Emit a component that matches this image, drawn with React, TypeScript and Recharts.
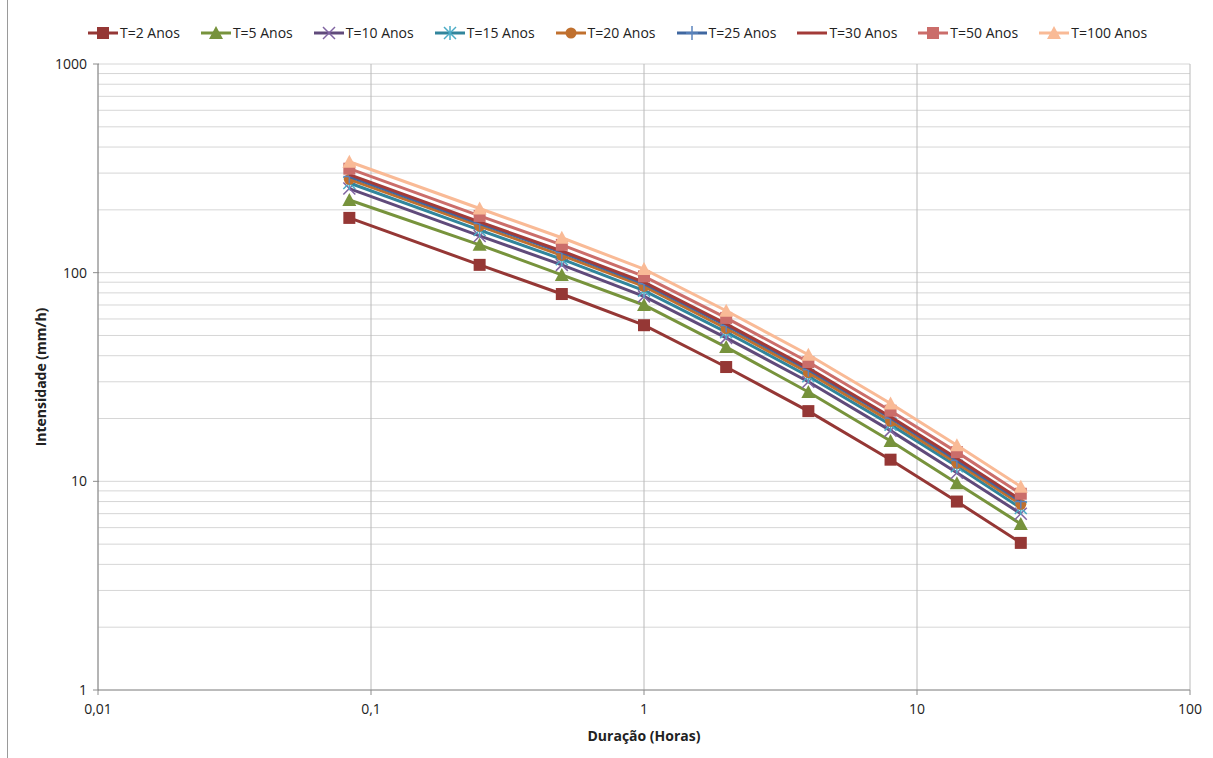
import { ScatterChart, Scatter, XAxis, YAxis, CartesianGrid } from "recharts"

// durations in hours (5, 15, 30 min, 1, 2, 4, 8, 14, 24 h)
const durations = [0.0833, 0.25, 0.5, 1, 2, 4, 8, 14, 24]

const t2 = [183, 109, 79, 56, 35.3, 21.7, 12.7, 8.0, 5.07]
const t5 = [223, 136, 97.5, 70, 44, 26.8, 15.6, 9.8, 6.25]
const t10 = [253, 150, 109, 77, 48.7, 30, 17.5, 11.0, 7.0]
const t15 = [269, 160, 116, 82, 51.9, 31.9, 18.7, 11.8, 7.45]
const t20 = [280, 167, 121, 86, 54, 33.2, 19.4, 12.2, 7.76]
const t25 = [289, 172, 125, 88.5, 55.8, 34.3, 20.1, 12.6, 8.0]
const t30 = [295, 175, 127, 90, 56.8, 34.9, 20.4, 12.9, 8.16]
const t50 = [315, 187, 136, 96, 60.7, 37.3, 21.8, 13.8, 8.72]
const t100 = [340, 203, 147, 104, 65.7, 40.4, 23.6, 14.9, 9.43]

const xTicks = [0.01, 0.1, 1, 10, 100]
const yMajor = [1, 10, 100, 1000]
const yTicks = [1, 2, 3, 4, 5, 6, 7, 8, 9, 10, 20, 30, 40, 50, 60, 70, 80, 90, 100, 200, 300, 400, 500, 600, 700, 800, 900, 1000]

const W = 1213
const H = 758

type Mk = "square" | "triangle" | "x" | "star" | "circle" | "plus" | "none"

function Marker({ kind, cx, cy, color }: { kind: Mk; cx: number; cy: number; color: string }) {
  if (kind === "square") return <rect x={cx - 6} y={cy - 6} width={12} height={12} fill={color} />
  if (kind === "triangle")
    return <polygon points={`${cx},${cy - 7} ${cx + 7},${cy + 6} ${cx - 7},${cy + 6}`} fill={color} />
  if (kind === "circle") return <circle cx={cx} cy={cy} r={5.5} fill={color} />
  if (kind === "x")
    return (
      <g stroke={color} strokeWidth={1.5}>
        <line x1={cx - 6} y1={cy - 6} x2={cx + 6} y2={cy + 6} />
        <line x1={cx - 6} y1={cy + 6} x2={cx + 6} y2={cy - 6} />
      </g>
    )
  if (kind === "star")
    return (
      <g stroke={color} strokeWidth={1.5}>
        <line x1={cx - 6} y1={cy - 6} x2={cx + 6} y2={cy + 6} />
        <line x1={cx - 6} y1={cy + 6} x2={cx + 6} y2={cy - 6} />
        <line x1={cx} y1={cy - 7} x2={cx} y2={cy + 7} />
      </g>
    )
  if (kind === "plus")
    return (
      <g stroke={color} strokeWidth={1.5}>
        <line x1={cx - 6} y1={cy} x2={cx + 6} y2={cy} />
        <line x1={cx} y1={cy - 7} x2={cx} y2={cy + 7} />
      </g>
    )
  return <g />
}

const series = [
  { name: "T=2 Anos", values: t2, line: "#953735", mark: "#953735", kind: "square" as Mk },
  { name: "T=5 Anos", values: t5, line: "#77933C", mark: "#77933C", kind: "triangle" as Mk },
  { name: "T=10 Anos", values: t10, line: "#604A7B", mark: "#8064A2", kind: "x" as Mk },
  { name: "T=15 Anos", values: t15, line: "#31859C", mark: "#4BACC6", kind: "star" as Mk },
  { name: "T=20 Anos", values: t20, line: "#C0702E", mark: "#C0702E", kind: "circle" as Mk },
  { name: "T=25 Anos", values: t25, line: "#3F67A0", mark: "#5B84BE", kind: "plus" as Mk },
  { name: "T=30 Anos", values: t30, line: "#A33B38", mark: "#A33B38", kind: "none" as Mk },
  { name: "T=50 Anos", values: t50, line: "#CB6D6A", mark: "#CB6D6A", kind: "square" as Mk },
  { name: "T=100 Anos", values: t100, line: "#F9BA96", mark: "#F9BA96", kind: "triangle" as Mk },
]

const fmt = (v: number) => String(v).replace(".", ",")

function YTick(props: any) {
  const { x, y, payload } = props
  if (!yMajor.includes(payload.value)) return <g />
  return (
    <g>
      <line x1={x + 3} y1={y} x2={x + 9} y2={y} stroke="#8c8c8c" />
      <text x={x - 3} y={y + 5} textAnchor="end" fontSize={14} fill="#222">
        {payload.value}
      </text>
    </g>
  )
}

function Legend() {
  return (
    <div
      style={{
        position: "absolute",
        top: 23,
        left: 88,
        display: "flex",
        gap: 21,
        fontSize: 14,
        color: "#222",
        whiteSpace: "nowrap",
      }}
    >
      {series.map((s) => (
        <div key={s.name} style={{ display: "flex", alignItems: "center" }}>
          <svg width={30} height={18}>
            <line x1={0} y1={9} x2={30} y2={9} stroke={s.line} strokeWidth={3} />
            <Marker kind={s.kind} cx={15} cy={9} color={s.mark} />
          </svg>
          <span style={{ marginLeft: 2 }}>{s.name}</span>
        </div>
      ))}
    </div>
  )
}

export default function App() {
  return (
    <div
      style={{
        position: "absolute",
        left: 0,
        top: 0,
        width: W,
        height: H,
        background: "#fff",
        fontFamily: "'Open Sans', 'Noto Sans', sans-serif",
      }}
    >
      <div style={{ position: "absolute", left: 7, top: 0, width: 1, height: H, background: "#9a9a9a" }} />
      <Legend />
      <ScatterChart width={W} height={H} margin={{ top: 64, right: 23, bottom: 38, left: 40 }}>
        <CartesianGrid stroke="#d6d6d6" strokeWidth={1} vertical={false} />
        <CartesianGrid stroke="#bababa" strokeWidth={1} horizontal={false} />
        <XAxis
          type="number"
          dataKey="x"
          scale="log"
          domain={[0.01, 100]}
          ticks={xTicks}
          tickFormatter={fmt}
          allowDataOverflow
          stroke="#8c8c8c"
          tick={{ fill: "#222", fontSize: 14 }}
          tickSize={5}
          tickMargin={9}
          height={30}
        />
        <YAxis
          type="number"
          dataKey="y"
          scale="log"
          domain={[1, 1000]}
          ticks={yTicks}
          allowDataOverflow
          interval={0}
          stroke="#8c8c8c"
          tickLine={false}
          tick={<YTick />}
          width={58}
        />
        {series.map((s) => (
          <Scatter
            key={s.name}
            name={s.name}
            data={durations.map((d, i) => ({ x: d, y: s.values[i] }))}
            line={{ stroke: s.line, strokeWidth: 3 }}
            lineType="joint"
            isAnimationActive={false}
            shape={(p: any) => <Marker kind={s.kind} cx={p.cx} cy={p.cy} color={s.mark} />}
          />
        ))}
      </ScatterChart>
      <div
        style={{
          position: "absolute",
          left: 40,
          top: 377,
          transform: "translate(-50%, -50%) rotate(-90deg)",
          fontSize: 14,
          fontWeight: "bold",
          color: "#222",
          whiteSpace: "nowrap",
        }}
      >
        Intensidade (mm/h)
      </div>
      <div
        style={{
          position: "absolute",
          left: 644,
          top: 735,
          transform: "translate(-50%, -50%)",
          fontSize: 14,
          fontWeight: "bold",
          color: "#222",
          whiteSpace: "nowrap",
        }}
      >
        Duração (Horas)
      </div>
    </div>
  )
}
